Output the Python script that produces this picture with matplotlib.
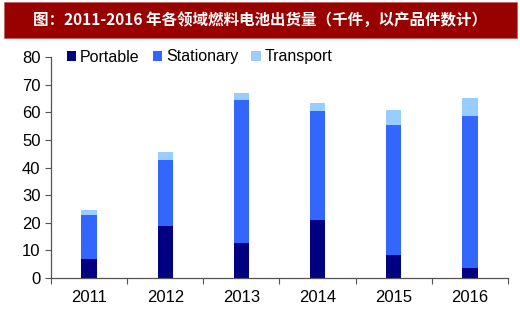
import matplotlib.pyplot as plt
from matplotlib.patches import Rectangle
import numpy as np

years = ["2011", "2012", "2013", "2014", "2015", "2016"]
portable = [6.7, 18.9, 12.7, 20.9, 8.5, 3.8]
stationary = [16.1, 23.8, 51.6, 39.6, 46.9, 54.7]
transport = [1.7, 2.9, 2.6, 3.0, 5.4, 6.6]
title = "图：2011-2016 年各领域燃料电池出货量（千件，以产品件数计）"

plt.rcParams['font.family'] = ['Liberation Sans', 'DejaVu Sans']

fig = plt.figure(figsize=(5.2, 3.16), dpi=100)
fig.patch.set_facecolor("white")

# red title banner
fig.patches.append(Rectangle((4 / 520, 1 - 38 / 316), 513 / 520, 36 / 316,
                             transform=fig.transFigure, facecolor="#990000",
                             edgecolor="#c06060", linewidth=0.6))
fig.text(0.5, 1 - 20 / 316, title, color="white", fontsize=11.2, fontweight="bold",
         ha="center", va="center", family=["Noto Sans CJK SC", "DejaVu Sans"])

ax = fig.add_axes([51 / 520, 38 / 316, 457 / 520, 221 / 316])
x = np.arange(len(years))
w = 0.2
b1 = np.array(portable)
b2 = b1 + np.array(stationary)
ax.bar(x, portable, w, color="#000080", label="Portable")
ax.bar(x, stationary, w, bottom=b1, color="#3366FF", label="Stationary")
ax.bar(x, transport, w, bottom=b2, color="#99CCFF", label="Transport")

ax.set_xlim(-0.5, len(years) - 0.5)
ax.set_ylim(0, 80)
ax.set_yticks(np.arange(0, 81, 10))
ax.set_xticks(x)
ax.set_xticklabels(years)
ax.set_xticks(np.arange(-0.5, len(years), 1), minor=True)
ax.tick_params(axis="x", which="major", length=0, pad=9, labelsize=12)
ax.tick_params(axis="x", which="minor", length=4, width=0.8, color="#555555")
ax.tick_params(axis="y", length=4, width=0.8, color="#555555", labelsize=12)
for s in ["top", "right"]:
    ax.spines[s].set_visible(False)
for s in ["left", "bottom"]:
    ax.spines[s].set_color("#555555")
    ax.spines[s].set_linewidth(0.9)

ax.legend(loc="center left", bbox_to_anchor=(0.02, 1.0), ncol=3, frameon=False,
          fontsize=11.5, handlelength=0.6, handleheight=0.6, handletextpad=0.25,
          columnspacing=0.8, borderaxespad=0)

fig.savefig("out.png", dpi=100)
